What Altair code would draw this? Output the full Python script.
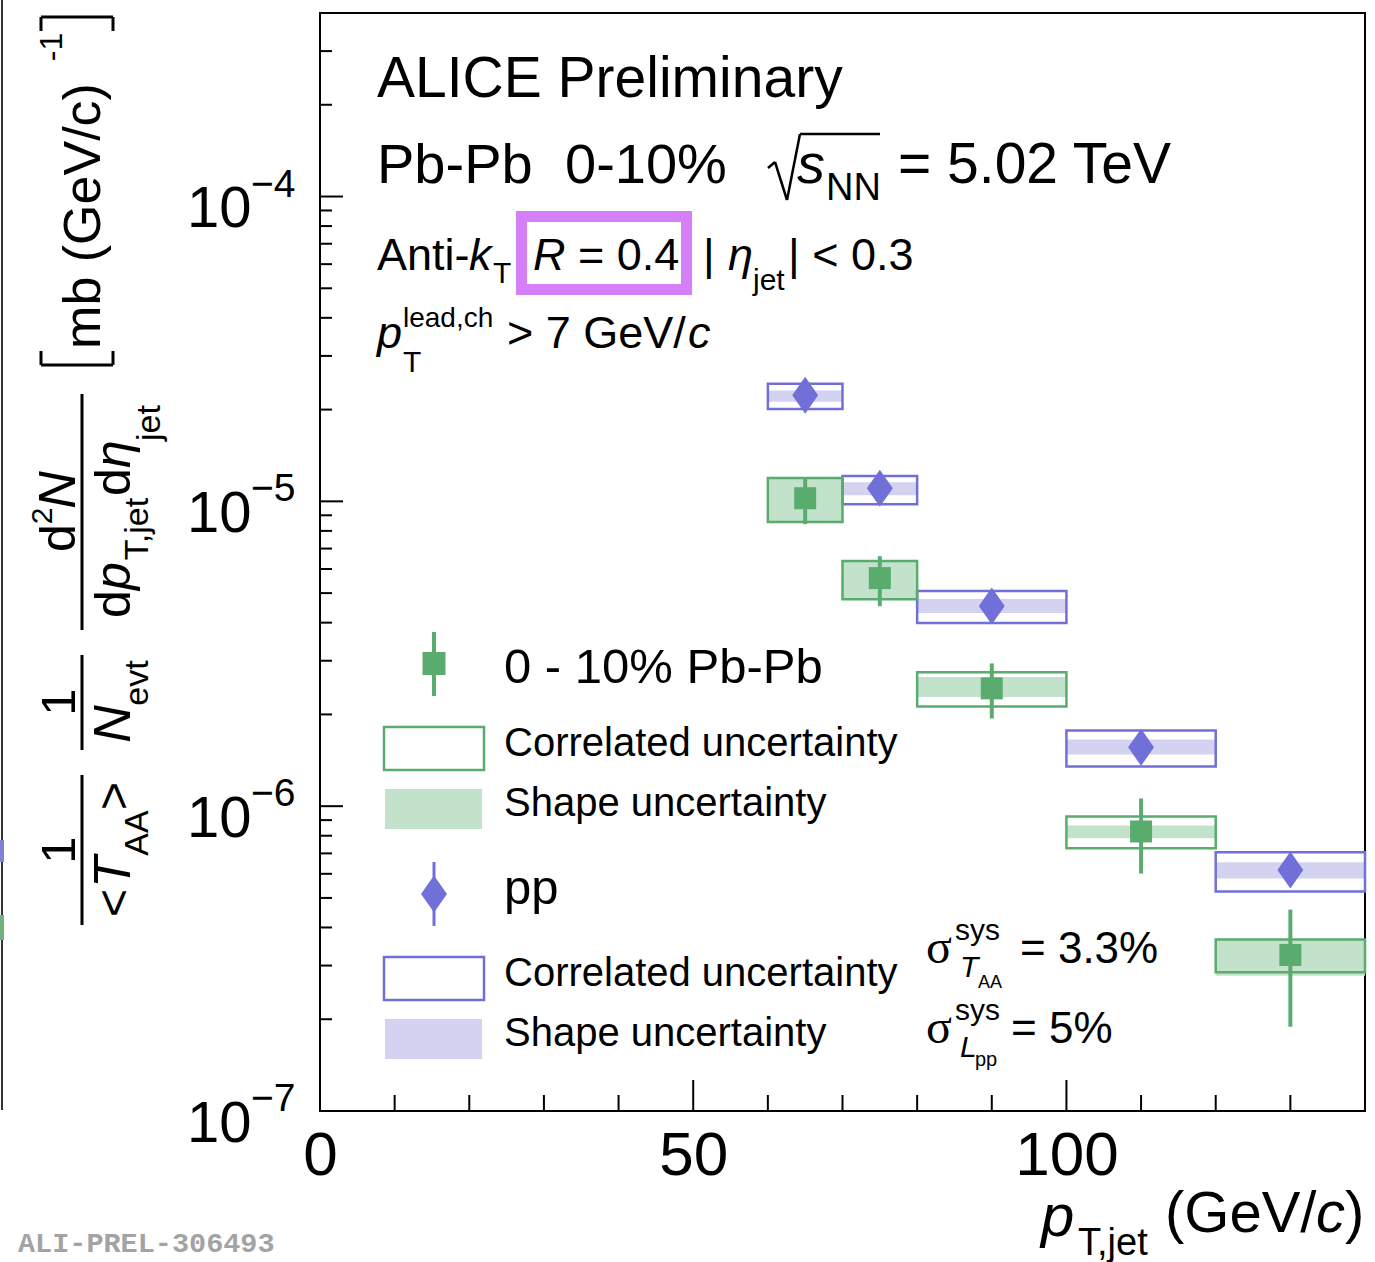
import altair as alt
import pandas as pd

# ---------------- data ----------------
bin_lo = [60, 70, 80, 100, 120]
bin_hi = [70, 80, 100, 120, 140]
bin_center = [65, 75, 90, 110, 130]

pp_val = [2.23e-5, 1.105e-5, 4.54e-6, 1.56e-6, 6.18e-7]
pp_stat_lo = [2.15e-5, 1.06e-5, 4.40e-6, 1.50e-6, 5.90e-7]
pp_stat_hi = [2.31e-5, 1.15e-5, 4.68e-6, 1.62e-6, 6.45e-7]
pp_corr_lo = [2.01e-5, 9.79e-6, 3.99e-6, 1.35e-6, 5.25e-7]
pp_corr_hi = [2.43e-5, 1.21e-5, 5.08e-6, 1.77e-6, 7.06e-7]
pp_shape_lo = [2.12e-5, 1.048e-5, 4.30e-6, 1.478e-6, 5.79e-7]
pp_shape_hi = [2.31e-5, 1.156e-5, 4.78e-6, 1.656e-6, 6.55e-7]

pb_val = [1.024e-5, 5.60e-6, 2.435e-6, 8.26e-7, 3.25e-7]
pb_stat_lo = [8.42e-6, 4.53e-6, 1.94e-6, 6.01e-7, 1.89e-7]
pb_stat_hi = [1.201e-5, 6.61e-6, 2.94e-6, 1.06e-6, 4.58e-7]
pb_corr_lo = [8.55e-6, 4.77e-6, 2.125e-6, 7.28e-7, 2.85e-7]
pb_corr_hi = [1.192e-5, 6.375e-6, 2.748e-6, 9.25e-7, 3.65e-7]
pb_shape_lo = [8.55e-6, 4.77e-6, 2.28e-6, 7.85e-7, 2.78e-7]
pb_shape_hi = [1.192e-5, 6.375e-6, 2.652e-6, 8.64e-7, 3.65e-7]

x_major = [0, 50, 100]
x_minor = [10, 20, 30, 40, 60, 70, 80, 90, 110, 120, 130]
y_major = [1e-4, 1e-5, 1e-6, 1e-7]
y_exp_labels = ["\u22124", "\u22125", "\u22126", "\u22127"]
y_minor = [m * 10.0 ** e for e in (-7, -6, -5, -4) for m in range(2, 10) if m * 10.0 ** e <= 4e-4]

# ---------------- layout / style ----------------
W, H = 1045, 1098
L, T = 320, 13
FONT = "Liberation Sans"
GREEN = "#5aac6e"
GREEN_FILL = "#c3e2cb"
BLUE = "#7070d8"
BLUE_FILL = "#d3d3f1"
MAGENTA = "#d580f8"


def px(x):
    return x - L


def py(y):
    return y - T


xs = alt.Scale(domain=[0, 140], nice=False, zero=False)
ys = alt.Scale(type="log", domain=[1e-7, 4e-4], nice=False)

AXX = alt.Axis(values=x_major, ticks=False, tickSize=0, domain=False, grid=False, title=None,
               labelFontSize=62, labelFont=FONT, labelColor="black", labelPadding=14,
               labelFlush=False, labelOverlap=False, format="d")
AXY = alt.Axis(values=y_major, labelExpr="'10'", ticks=False, tickSize=0, domain=False, grid=False,
               title=None, labelFontSize=58, labelFont=FONT, labelColor="black", labelPadding=69,
               labelBaseline="alphabetic", labelOffset=30, labelAlign="right",
               labelFlush=False, labelOverlap=False)

pp = pd.DataFrame({"lo": bin_lo, "hi": bin_hi, "c": bin_center, "val": pp_val,
                   "slo": pp_stat_lo, "shi": pp_stat_hi, "clo": pp_corr_lo, "chi": pp_corr_hi,
                   "blo": pp_shape_lo, "bhi": pp_shape_hi})
pb = pd.DataFrame({"lo": bin_lo, "hi": bin_hi, "c": bin_center, "val": pb_val,
                   "slo": pb_stat_lo, "shi": pb_stat_hi, "clo": pb_corr_lo, "chi": pb_corr_hi,
                   "blo": pb_shape_lo, "bhi": pb_shape_hi})


def band(df, color):
    return alt.Chart(df).mark_rect(color=color, opacity=1).encode(
        x=alt.X("lo:Q", scale=xs, axis=AXX), x2="hi:Q",
        y=alt.Y("blo:Q", scale=ys, axis=AXY), y2="bhi:Q")


def box(df, color):
    return alt.Chart(df).mark_rect(fillOpacity=0, stroke=color, strokeWidth=2.5).encode(
        x=alt.X("lo:Q", scale=xs, axis=AXX), x2="hi:Q",
        y=alt.Y("clo:Q", scale=ys, axis=AXY), y2="chi:Q")


def err(df, color, w):
    return alt.Chart(df).mark_rule(color=color, strokeWidth=w).encode(
        x=alt.X("c:Q", scale=xs, axis=AXX),
        y=alt.Y("slo:Q", scale=ys, axis=AXY), y2="shi:Q")


DIAMOND = "M0,-1L0.7,0L0,1L-0.7,0Z"


def marker(df, color, shape, size):
    return alt.Chart(df).mark_point(shape=shape, filled=True, size=size, color=color, opacity=1).encode(
        x=alt.X("c:Q", scale=xs, axis=AXX),
        y=alt.Y("val:Q", scale=ys, axis=AXY))


one = pd.DataFrame({"k": [0]})


def txt(s, x, y, size, italic=False, color="black", font=FONT, angle=0, align="left", weight="normal"):
    kw = dict(align=align, baseline="alphabetic", fontSize=size, font=font, color=color, fontWeight=weight)
    if italic:
        kw["fontStyle"] = "italic"
    if angle:
        kw["angle"] = angle
    return alt.Chart(pd.DataFrame({"t": [s]})).mark_text(**kw).encode(
        x=alt.value(px(x)), y=alt.value(py(y)), text="t:N")


def rtxt(s, bx, cy, size, italic=False):
    return txt(s, bx, cy, size, italic=italic, angle=270, align="center")


def seg(x1, y1, x2, y2, color="black", w=2.5):
    return alt.Chart(one).mark_rule(color=color, strokeWidth=w).encode(
        x=alt.value(px(x1)), y=alt.value(py(y1)), x2=alt.value(px(x2)), y2=alt.value(py(y2)))


def grect(x1, y1, x2, y2, fill=None, stroke=None, w=2.5):
    kw = {}
    if fill:
        kw["fill"] = fill
        kw["fillOpacity"] = 1
    else:
        kw["fillOpacity"] = 0
    if stroke:
        kw["stroke"] = stroke
        kw["strokeWidth"] = w
    return alt.Chart(one).mark_rect(**kw).encode(
        x=alt.value(px(x1)), y=alt.value(py(y1)), x2=alt.value(px(x2)), y2=alt.value(py(y2)))


def gpoint(x, y, shape, size, color):
    return alt.Chart(one).mark_point(shape=shape, filled=True, size=size, color=color, opacity=1).encode(
        x=alt.value(px(x)), y=alt.value(py(y)))


layers = []
# data
layers += [band(pp, BLUE_FILL), band(pb, GREEN_FILL), box(pp, BLUE), box(pb, GREEN),
           err(pb, GREEN, 4), err(pp, BLUE, 3),
           marker(pb, GREEN, "square", 484), marker(pp, BLUE, DIAMOND, 1369)]

# ticks (drawn inward)
layers.append(alt.Chart(pd.DataFrame({"v": x_major})).mark_rule(color="black", strokeWidth=2).encode(
    x=alt.X("v:Q", scale=xs, axis=AXX), y=alt.value(H), y2=alt.value(H - 31)))
layers.append(alt.Chart(pd.DataFrame({"v": x_minor})).mark_rule(color="black", strokeWidth=2).encode(
    x=alt.X("v:Q", scale=xs, axis=AXX), y=alt.value(H), y2=alt.value(H - 16)))
layers.append(alt.Chart(pd.DataFrame({"v": y_major})).mark_rule(color="black", strokeWidth=2).encode(
    y=alt.Y("v:Q", scale=ys, axis=AXY), x=alt.value(0), x2=alt.value(23)))
layers.append(alt.Chart(pd.DataFrame({"v": y_minor})).mark_rule(color="black", strokeWidth=2).encode(
    y=alt.Y("v:Q", scale=ys, axis=AXY), x=alt.value(0), x2=alt.value(12)))
# exponents of y tick labels
layers.append(alt.Chart(pd.DataFrame({"v": y_major, "t": y_exp_labels})).mark_text(
    align="left", baseline="alphabetic", fontSize=39, font=FONT, color="black").encode(
    y=alt.Y("v:Q", scale=ys, axis=AXY), x=alt.value(-69), text="t:N"))

# header texts
layers += [
    txt("ALICE Preliminary", 377, 97, 57),
    txt("Pb-Pb", 377, 183, 56),
    txt("0-10%", 565, 183, 56),
    seg(768, 168, 775, 162), seg(775, 162, 787, 200), seg(787, 200, 800, 134), seg(800, 134, 880, 134),
    txt("s", 797, 183, 56, italic=True),
    txt("NN", 826, 200, 38),
    txt("= 5.02 TeV", 898, 183, 57),
    txt("Anti-", 377, 270, 45),
    txt("k", 469, 270, 45, italic=True),
    txt("T", 493, 283, 30),
    grect(521.5, 216.5, 686.5, 289.5, stroke=MAGENTA, w=11),
    txt("R", 533, 270, 45, italic=True),
    txt("= 0.4", 578, 270, 45),
    txt("|", 703, 270, 45),
    txt("\u03b7", 728, 270, 45, italic=True),
    txt("jet", 753, 290, 30),
    txt("| < 0.3", 788, 270, 45),
    txt("p", 377, 348, 45, italic=True),
    txt("lead,ch", 403, 327, 28),
    txt("T", 403, 372, 30),
    txt("> 7 GeV/", 507, 348, 45),
    txt("c", 688, 348, 45, italic=True),
]

# legend
layers += [
    seg(434, 632, 434, 696, color=GREEN, w=4),
    gpoint(434, 663.5, "square", 529, GREEN),
    txt("0 - 10% Pb-Pb", 504, 683, 49),
    grect(384, 727, 484, 770, stroke=GREEN, w=2.5),
    txt("Correlated uncertainty", 504, 756, 40),
    grect(385, 789, 482, 829, fill=GREEN_FILL),
    txt("Shape uncertainty", 504, 816, 40),
    seg(434, 862, 434, 926, color=BLUE, w=3),
    gpoint(434, 894, DIAMOND, 1369, BLUE),
    txt("pp", 504, 904, 49),
    grect(384, 957, 484, 1000, stroke=BLUE, w=2.5),
    txt("Correlated uncertainty", 504, 986, 40),
    grect(385, 1019, 482, 1059, fill=BLUE_FILL),
    txt("Shape uncertainty", 504, 1046, 40),
]

# systematic notes
layers += [
    txt("\u03c3", 926, 963, 48, font="Liberation Serif"),
    txt("sys", 955, 940, 30),
    txt("T", 960, 977, 30, italic=True),
    txt("AA", 978, 988, 18),
    txt("= 3.3%", 1020, 963, 44),
    txt("\u03c3", 926, 1043, 48, font="Liberation Serif"),
    txt("sys", 955, 1020, 30),
    txt("L", 960, 1057, 30, italic=True),
    txt("pp", 975, 1066, 20),
    txt("= 5%", 1011, 1043, 44),
]

# x-axis title
layers += [
    txt("p", 1041, 1236, 60, italic=True),
    txt("T,jet", 1078, 1255, 38),
    txt("(GeV/", 1165, 1232, 58),
    txt("c", 1316, 1232, 58, italic=True),
    txt(")", 1345, 1232, 58),
]

# y-axis title (rotated)
layers += [
    rtxt("1", 75, 850, 49),
    seg(82, 775, 82, 925, w=3),
    rtxt("<", 130, 903, 48),
    rtxt("T", 130, 872, 52, italic=True),
    rtxt("AA", 148, 833, 34),
    rtxt(">", 130, 796, 48),
    rtxt("1", 75, 702, 49),
    seg(82, 655, 82, 750, w=3),
    rtxt("N", 130, 724, 52, italic=True),
    rtxt("evt", 148, 683, 34),
    rtxt("d", 75, 538, 50),
    rtxt("2", 52, 516, 30),
    rtxt("N", 75, 490, 52, italic=True),
    seg(82, 394, 82, 630, w=3),
    rtxt("d", 130, 604, 50),
    rtxt("p", 130, 576, 50, italic=True),
    rtxt("T,jet", 148, 529, 34),
    rtxt("d", 130, 482, 50),
    rtxt("\u03b7", 130, 454, 50, italic=True),
    rtxt("jet", 160, 423, 34),
    # left bracket (bottom)
    seg(41, 365, 113, 365, w=3), seg(41, 365, 41, 351, w=3), seg(113, 365, 113, 351, w=3),
    rtxt("mb (GeV/c)", 100, 216, 52),
    rtxt("-1", 62, 47, 32),
    # right bracket (top)
    seg(41, 17, 113, 17, w=3), seg(41, 17, 41, 31, w=3), seg(113, 17, 113, 31, w=3),
]

# neighbouring-panel remnants and watermark
layers += [
    seg(2, 0, 2, 1110, color="#333333", w=2),
    grect(0, 840, 4, 862, fill="#8080d8"),
    grect(0, 915, 4, 940, fill="#6fb07f"),
    txt("ALI-PREL-306493", 18, 1252, 28.5, font="Liberation Mono", color="#a3a3a3", weight="bold"),
]

chart = alt.layer(*layers).properties(
    width=W, height=H,
    padding={"left": L, "top": T, "right": 1375 - L - W, "bottom": 1262 - T - H},
    autosize=alt.AutoSizeParams(type="none"),
    background="white",
).configure_view(stroke="black", strokeWidth=2)

chart.save("out.html", embed_options={"renderer": "svg", "actions": False})
